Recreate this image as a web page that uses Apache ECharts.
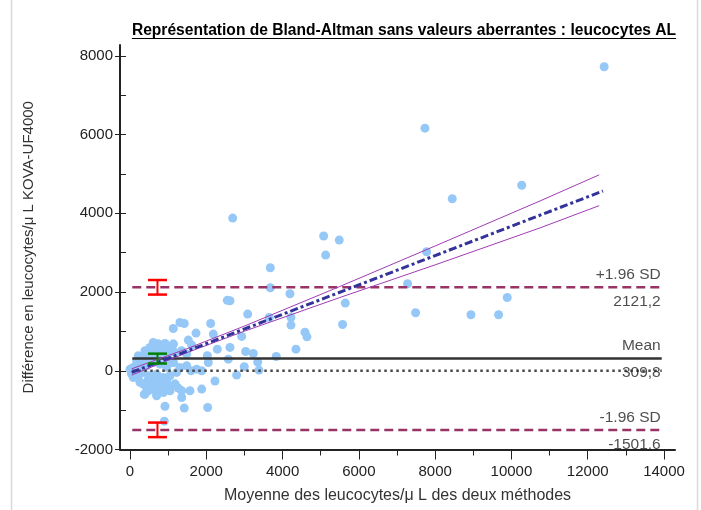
<!DOCTYPE html>
<html>
<head>
<meta charset="utf-8">
<script src="https://cdn.jsdelivr.net/npm/echarts@6/dist/echarts.min.js"></script>
<style>
html,body{margin:0;padding:0;background:#fff;}
#c{width:701px;height:510px;}
</style>
</head>
<body>
<div id="c"></div>
<script>
// ---------------- DATA ----------------
const titleText = 'Représentation de Bland-Altman sans valeurs aberrantes : leucocytes AL';
const xAxisName = 'Moyenne des leucocytes/μ L des deux méthodes';
const yAxisName = 'Différence en leucocytes/μ L KOVA-UF4000';

// [mean of both methods, difference]
const points = [
  [12431,7725],[7732,6165],[10270,4715],[8448,4370],[2692,3880],[5077,3423],[5486,3321],
  [5129,2940],[7776,3024],[3678,2617],[3678,2109],[2621,1779],[2550,1790],[4194,1957],
  [5644,1720],[7278,2211],[9890,1863],[7488,1474],[8938,1423],[9663,1423],[3085,1440],
  [3652,1355],[4220,1355],[4220,1160],[5573,1177],[4587,982],[4639,863],[4351,550],
  [2927,873],[2621,593],[3032,491],[3232,440],[3347,220],[3835,364],[2996,102],[3381,17],
  [2796,-110],
  [1310,1227],[1423,1202],[2115,1202],[1135,1075],[1730,957],[2184,932],[1529,779],
  [1616,652],[2289,550],[2027,381],[2577,296],[742,678],[917,678],[1135,678],[611,550],
  [437,338],[262,211],[131,85],[45,-43],[962,381],[1135,211],[1486,127],[1747,42],
  [1599,0],[1879,0],[2053,211],[2228,-260],[349,-338],[437,-440],[375,-600],[699,-592],
  [873,-508],[962,-338],[1179,-338],[1266,-440],[1355,-508],[1573,-508],[1355,-678],
  [1879,-465],[917,-900],[1423,-948],[2036,-932],[900,-1280],
  [612,720],[743,678],[917,695],[1136,678],[1049,593],[830,551],[218,381],[393,508],
  [568,424],[699,424],[830,381],[1005,424],[1180,466],[1354,508],[1485,424],[87,85],
  [262,169],[437,127],[612,212],[786,169],[961,85],[1136,212],[1311,85],[44,-85],
  [218,-170],[350,-42],[524,-127],[699,-85],[874,-170],[1049,-127],[1223,-42],[262,-296],
  [437,-381],[568,-339],[699,-423],[830,-296],[1005,-381],[1180,-339],[393,-593],[699,-635],
  [874,-551],[1049,-508],[175,254],[350,339],[524,593],[655,635],[786,466],[961,296],
  [131,0],[306,42],[481,-212],[612,-254],[786,-212],[961,-254],[481,-508],[612,-466],
  [0,42],[87,-170]
];

const meanDiff = 309.8;
const upperLoA = 2121.2;
const lowerLoA = -1501.6;
const refLineX = [60, 13940];          // extent of the horizontal reference lines

// regression of difference on mean
const regX = [44, 12400];
const regY = [-40, 4568];
// confidence band of the regression line
const bandX = [44, 1500, 3000, 5500, 8000, 10750, 12300];
const bandUpper = [50, 563, 1136, 2141, 3171, 4315, 4978];
const bandLower = [-110, 463, 1006, 1861, 2691, 3630, 4195];

// confidence intervals drawn as error bars: [x, low, high]
const ciUpper = [720, 1936, 2306];
const ciMean = [720, 185, 435];
const ciLower = [720, -1686, -1316];

const refLabels = [
  [refLineX[1], upperLoA, '+1.96 SD', 'above'],
  [refLineX[1], upperLoA, '2121,2', 'below'],
  [refLineX[1], meanDiff, 'Mean', 'above'],
  [refLineX[1], meanDiff, '309,8', 'below'],
  [refLineX[1], lowerLoA, '-1.96 SD', 'above'],
  [refLineX[1], lowerLoA, '-1501,6', 'below']
];

const xMin = -262, xMax = 14288;
const yMin = -2000, yMax = 8277;
const xTicks = [0,2000,4000,6000,8000,10000,12000,14000];
const xMinorTicks = [1000,3000,5000,7000,9000,11000,13000];
const yTicks = [-2000,0,2000,4000,6000,8000];
const yInnerTicks = [-2000,-1000,0,1000,2000,3000,4000,5000,6000,7000,8000];

// ---------------- CHART ----------------
const FONT = '"Liberation Sans", Arial, sans-serif';
const chart = echarts.init(document.getElementById('c'), null, {renderer: 'canvas'});

const titleFont = 'bold 15.6px ' + FONT;
const ctx = document.createElement('canvas').getContext('2d');
ctx.font = titleFont;
const titleW = ctx.measureText(titleText).width;
const titleCx = 404;

function hLine(y, color, width, type, z) {
  return {
    type: 'line', data: [[refLineX[0], y], [refLineX[1], y]],
    symbol: 'none', silent: true, z: z || 3,
    lineStyle: {color: color, width: width, type: type}
  };
}
const plain = v => String(v);
const ciColors = ['#ff0000', '#008000', '#ff0000'];

const option = {
  animation: false,
  backgroundColor: '#ffffff',
  grid: {left: 120, right: 26, top: 45, bottom: 60.5, containLabel: false},
  graphic: [
    {type: 'text', x: titleCx, y: 30.5, z: 10,
      style: {text: titleText, font: titleFont, fill: '#000', textAlign: 'center', textVerticalAlign: 'middle'}},
    {type: 'line', z: 10, shape: {x1: titleCx - titleW / 2, y1: 38.5, x2: titleCx + titleW / 2, y2: 38.5},
      style: {stroke: '#000', lineWidth: 1}},
    {type: 'line', shape: {x1: 11.5, y1: 0, x2: 11.5, y2: 510}, style: {stroke: '#d9d9d9', lineWidth: 1.5}},
    {type: 'line', shape: {x1: 697.5, y1: 0, x2: 697.5, y2: 510}, style: {stroke: '#d9d9d9', lineWidth: 1.5}}
  ],
  xAxis: [
    {
      type: 'value', min: xMin, max: xMax, position: 'bottom',
      axisLine: {show: true, onZero: false, lineStyle: {color: '#222', width: 2}},
      axisTick: {show: true, customValues: xTicks, length: 10, lineStyle: {color: '#222', width: 1}},
      axisLabel: {show: true, customValues: xTicks, formatter: plain, margin: 15, fontSize: 15, color: '#222', fontFamily: FONT},
      splitLine: {show: false},
      name: xAxisName, nameLocation: 'middle', nameGap: 38,
      nameTextStyle: {fontSize: 16, color: '#333', fontFamily: FONT}
    },
    {
      type: 'value', min: xMin, max: xMax, position: 'bottom',
      axisLine: {show: false, onZero: false},
      axisTick: {show: true, customValues: xMinorTicks, length: 6, lineStyle: {color: '#222', width: 1}},
      axisLabel: {show: false}, splitLine: {show: false}
    }
  ],
  yAxis: [
    {
      type: 'value', min: yMin, max: yMax, position: 'left',
      axisLine: {show: true, onZero: false, lineStyle: {color: '#222', width: 2}},
      axisTick: {show: true, customValues: yTicks, length: 5, lineStyle: {color: '#222', width: 1}},
      axisLabel: {show: true, customValues: yTicks, formatter: plain, margin: 7, fontSize: 15, color: '#222', fontFamily: FONT},
      splitLine: {show: false},
      name: yAxisName, nameLocation: 'middle', nameGap: 84, nameRotate: 90,
      nameTextStyle: {fontSize: 15, color: '#333', fontFamily: FONT}
    },
    {
      type: 'value', min: yMin, max: yMax, position: 'left',
      axisLine: {show: false, onZero: false},
      axisTick: {show: true, inside: true, customValues: yInnerTicks, length: 6, lineStyle: {color: '#222', width: 1}},
      axisLabel: {show: false}, splitLine: {show: false}
    }
  ],
  series: [
    {
      type: 'scatter', data: points, symbol: 'circle', symbolSize: 9, silent: true, z: 2,
      itemStyle: {color: '#95c8f7', opacity: 1}
    },
    hLine(0, '#4a4a4a', 2.5, [2.5, 3.5], 3),
    hLine(meanDiff, '#333333', 2.5, 'solid', 3),
    hLine(upperLoA, '#993366', 2.5, [9, 5], 3),
    hLine(lowerLoA, '#993366', 2.5, [9, 5], 3),
    {
      type: 'line', data: bandX.map((x, i) => [x, bandUpper[i]]), symbol: 'none', silent: true, z: 4,
      lineStyle: {color: '#a03cb4', width: 1}
    },
    {
      type: 'line', data: bandX.map((x, i) => [x, bandLower[i]]), symbol: 'none', silent: true, z: 4,
      lineStyle: {color: '#a03cb4', width: 1}
    },
    {
      type: 'line', data: regX.map((x, i) => [x, regY[i]]), symbol: 'none', silent: true, z: 5,
      lineStyle: {color: '#333399', width: 3, type: [8, 3, 3, 3]}
    },
    {
      type: 'custom', silent: true, z: 6,
      data: [ciUpper, ciMean, ciLower],
      encode: {x: 0, y: [1, 2]},
      renderItem: function (params, api) {
        const lo = api.coord([api.value(0), api.value(1)]);
        const hi = api.coord([api.value(0), api.value(2)]);
        const half = 9.5;
        const col = ciColors[params.dataIndex];
        return {
          type: 'group',
          children: [
            {type: 'line', shape: {x1: lo[0], y1: lo[1], x2: hi[0], y2: hi[1]}, style: {stroke: col, lineWidth: 2}},
            {type: 'line', shape: {x1: lo[0] - half, y1: lo[1], x2: lo[0] + half, y2: lo[1]}, style: {stroke: col, lineWidth: 2.5}},
            {type: 'line', shape: {x1: hi[0] - half, y1: hi[1], x2: hi[0] + half, y2: hi[1]}, style: {stroke: col, lineWidth: 2.5}}
          ]
        };
      }
    },
    {
      type: 'scatter', symbolSize: 0, silent: true, z: 7,
      data: refLabels.map(r => ({
        value: [r[0], r[1]],
        label: {
          show: true, formatter: r[2], position: 'left', distance: 0,
          offset: [-1, r[3] === 'above' ? -12.5 : 14.5],
          fontSize: 15.5, color: '#222', fontFamily: FONT
        }
      }))
    }
  ]
};
chart.setOption(option);
</script>
</body>
</html>
